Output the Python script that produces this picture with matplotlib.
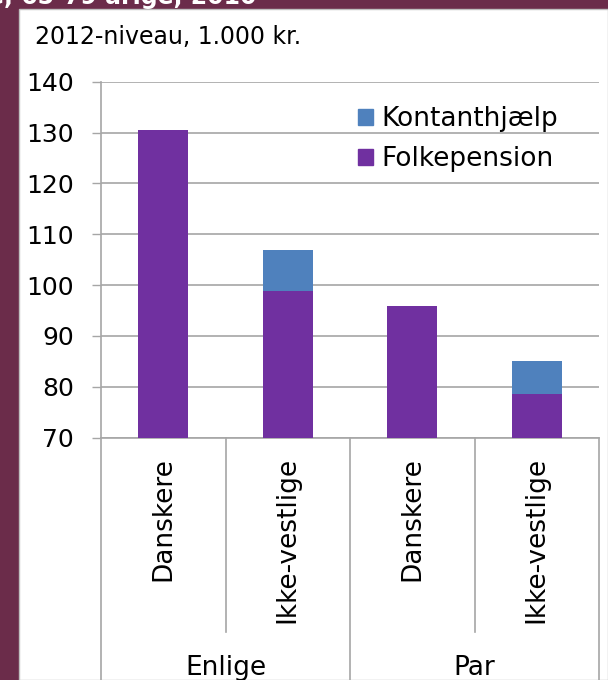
import matplotlib
matplotlib.use("Agg")
import matplotlib.pyplot as plt
from matplotlib.patches import Rectangle, Patch
from matplotlib.lines import Line2D
import numpy as np

# ---- data ----
categories = ["Danskere", "Ikke-vestlige", "Danskere", "Ikke-vestlige"]
groups = ["Enlige", "Par"]
folkepension = [130.4, 98.8, 95.9, 78.5]
kontanthjaelp = [0.0, 8.0, 0.0, 6.6]
yticks = [70, 80, 90, 100, 110, 120, 130, 140]
unit_label = "2012-niveau, 1.000 kr."
title_fragment = "e, 65-79 årige, 2010"

W, H = 608, 680
MAROON = "#6B2C4A"
PURPLE = "#7030A0"
BLUE = "#4F81BD"
GRID = "#A6A6A6"
FS = 19

plt.rcParams['font.family'] = ['DejaVu Sans']

fig = plt.figure(figsize=(W / 100, H / 100), dpi=100, facecolor=MAROON)

def fx(px):
    return px / W

def fy(py):
    return 1 - py / H

# white panel
panel = Rectangle((fx(19), 0), fx(W) - fx(19), fy(9), transform=fig.transFigure,
                  facecolor="white", edgecolor="#BFBFBF", linewidth=1, zorder=-5)
fig.patches.append(panel)

# cut-off title
fig.text(fx(257), fy(4), title_fragment, color="white", fontsize=17, fontweight="bold",
         ha="right", va="baseline")

# unit label
fig.text(fx(35), fy(44), unit_label, fontsize=17, ha="left", va="baseline", color="black")

left, right, top, bottom = 101, 599, 81.7, 437.5
ax = fig.add_axes([fx(left), fy(bottom), fx(right) - fx(left), fy(top) - fy(bottom)])
ax.set_facecolor("none")
ax.set_zorder(2)

x = np.arange(len(categories))
ax.bar(x, folkepension, width=0.4, color=PURPLE, zorder=3, label="Folkepension")
ax.bar(x, kontanthjaelp, width=0.4, bottom=folkepension, color=BLUE, zorder=3,
       label="Kontanthjælp")

ax.set_xlim(-0.5, len(categories) - 0.5)
ax.set_ylim(70, 140)
ax.set_yticks(yticks)
ax.tick_params(axis="y", length=6.5, width=1, color=GRID, labelsize=18, pad=13)
ax.set_xticks([])
ax.grid(axis="y", color=GRID, linewidth=1.2, zorder=0)
for s in ["top", "right"]:
    ax.spines[s].set_visible(False)
for s in ["left", "bottom"]:
    ax.spines[s].set_color(GRID)
    ax.spines[s].set_linewidth(1.2)

# legend
handles = [Patch(color=BLUE, label="Kontanthjælp"), Patch(color=PURPLE, label="Folkepension")]
ax.legend(handles=handles, loc="upper left", bbox_to_anchor=(fx(358), fy(106)),
          bbox_transform=fig.transFigure, frameon=False, fontsize=FS,
          handlelength=0.57, handleheight=0.57, handletextpad=0.3, labelspacing=0.54,
          borderpad=0, borderaxespad=0)

# multi-level category axis
trans = ax.get_xaxis_transform()
px_per_axes = bottom - top
cat_depth = (632 - bottom) / px_per_axes
grp_depth = (H - bottom) / px_per_axes
label_top = -(457 - bottom) / px_per_axes
group_y = -(668 - bottom) / px_per_axes
for i, c in enumerate(categories):
    ax.text(i, label_top, c, rotation=90, ha="center", va="top", fontsize=FS,
            transform=trans, clip_on=False)
for b in [0.5, 2.5]:
    ax.add_line(Line2D([b, b], [0, -cat_depth], transform=trans, color=GRID,
                       linewidth=1.2, clip_on=False))
for b in [-0.5, 1.5, 3.5]:
    ax.add_line(Line2D([b, b], [0, -grp_depth], transform=trans, color=GRID,
                       linewidth=1.2, clip_on=False))
for gi, g in enumerate(groups):
    ax.text(gi * 2 + 0.5, group_y, g, ha="center", va="center",
            fontsize=FS, transform=trans, clip_on=False)

fig.savefig("out.png", dpi=100, facecolor=MAROON)
